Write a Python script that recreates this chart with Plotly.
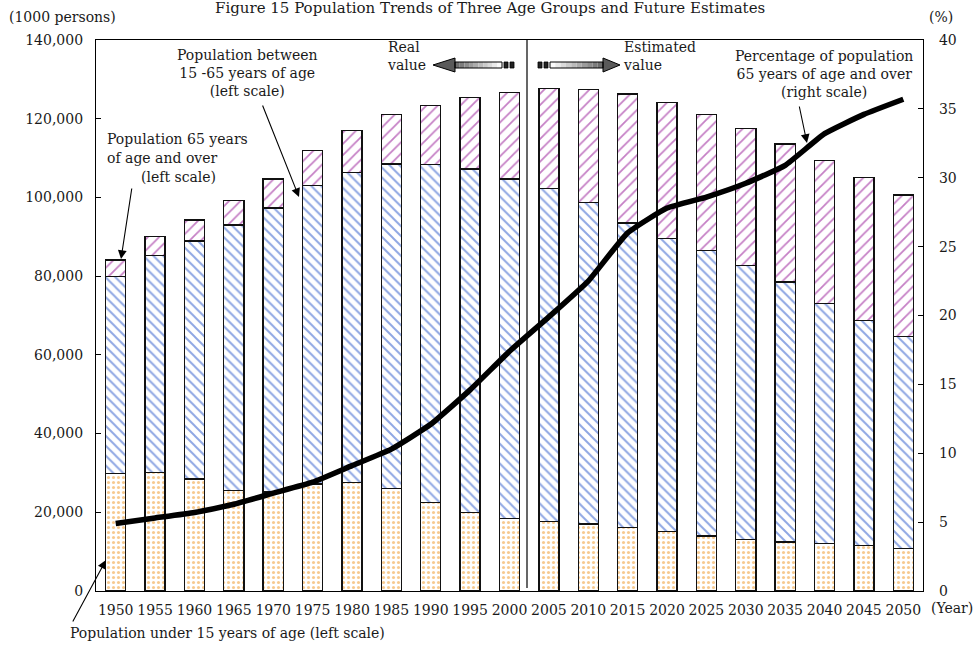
import plotly.graph_objects as go

years = [1950, 1955, 1960, 1965, 1970, 1975, 1980, 1985, 1990, 1995, 2000,
         2005, 2010, 2015, 2020, 2025, 2030, 2035, 2040, 2045, 2050]
under15 = [29786, 30123, 28434, 25529, 25153, 27221, 27507, 26033, 22486, 20014, 18472,
           17727, 17074, 16197, 15095, 14000, 13162, 12500, 12081, 11500, 10842]
age15_64 = [50168, 55167, 60469, 67444, 72119, 75807, 78835, 82506, 85904, 87165, 86220,
            84590, 81665, 77296, 74453, 72500, 69576, 66000, 61000, 57200, 53889]
over65 = [4155, 4786, 5398, 6236, 7393, 8865, 10647, 12468, 14895, 18261, 22005,
          25392, 28735, 32772, 34559, 34640, 34840, 35100, 36260, 36300, 35863]
pct65 = [4.9, 5.3, 5.7, 6.3, 7.1, 7.9, 9.1, 10.3, 12.1, 14.6, 17.4,
         19.9, 22.5, 26.0, 27.8, 28.6, 29.6, 30.9, 33.2, 34.6, 35.7]
left_ticks = [0, 20000, 40000, 60000, 80000, 100000, 120000, 140000]
right_ticks = [0, 5, 10, 15, 20, 25, 30, 35, 40]

FONT = "DejaVu Serif"
TXT = "#1a1a1a"
W, H = 975, 646
L, R, T, B = 96, 923, 40, 591


def P(x, y):
    return (x - L) / (R - L), (B - y) / (B - T)


fig = go.Figure()
bar_line = dict(color="#111111", width=1.4)
fig.add_trace(go.Bar(x=years, y=under15, width=2.55, name="under 15",
                     marker=dict(color="white", line=bar_line,
                                 pattern=dict(shape=".", fgcolor="#EE9420", bgcolor="white",
                                              size=5, solidity=0.3))))
fig.add_trace(go.Bar(x=years, y=age15_64, width=2.55, name="15-64",
                     marker=dict(color="white", line=bar_line,
                                 pattern=dict(shape="\\", fgcolor="#1F4FC8", bgcolor="white",
                                              size=7, solidity=0.28))))
fig.add_trace(go.Bar(x=years, y=over65, width=2.55, name="65+",
                     marker=dict(color="white", line=bar_line,
                                 pattern=dict(shape="/", fgcolor="#8B008B", bgcolor="white",
                                              size=8, solidity=0.22))))
fig.add_trace(go.Scatter(x=years, y=pct65, yaxis="y2", mode="lines",
                         line=dict(color="black", width=5.5, shape="spline", smoothing=0.4),
                         name="pct"))

shapes = []
# divider between real and estimated
x0, y0 = P(527, 40)
x1, y1 = P(527, 588)
shapes.append(dict(type="line", xref="paper", yref="paper", x0=x0, y0=y0, x1=x1, y1=y1,
                   line=dict(color="black", width=1.2)))


def rect(xa, ya, xb, yb, fill, line_color="black", lw=0.8):
    a = P(xa, ya)
    b = P(xb, yb)
    return dict(type="rect", xref="paper", yref="paper", x0=a[0], y0=a[1], x1=b[0], y1=b[1],
                fillcolor=fill, line=dict(color=line_color, width=lw))


def path(pts, fill, lw=1.0):
    s = ""
    for i, (x, y) in enumerate(pts):
        px, py = P(x, y)
        s += ("M" if i == 0 else " L") + f" {px:.5f},{py:.5f}"
    s += " Z"
    return dict(type="path", xref="paper", yref="paper", path=s, fillcolor=fill,
                line=dict(color="black", width=lw))


def grad(c0, c1, t):
    return "#%02x%02x%02x" % tuple(int(c0[i] + (c1[i] - c0[i]) * t) for i in range(3))


# left arrow (Real value)
ymid = 65
shaft_top, shaft_bot = ymid - 3, ymid + 3
head_tip, head_back = 433, 455
shaft_end = 502
n = 10
for i in range(n):
    xa = head_back + (shaft_end - head_back) * i / n
    xb = head_back + (shaft_end - head_back) * (i + 1) / n
    shapes.append(rect(xa, shaft_top, xb, shaft_bot,
                       grad((110, 110, 110), (250, 250, 250), i / (n - 1)), line_color="rgba(0,0,0,0)", lw=0))
shapes.append(path([(head_tip, ymid), (head_back, 58), (head_back, 72)], "#5a5a5a", 1.0))
shapes.append(dict(type="rect", xref="paper", yref="paper",
                   x0=P(head_back, 0)[0], x1=P(shaft_end, 0)[0],
                   y0=P(0, shaft_top)[1], y1=P(0, shaft_bot)[1],
                   fillcolor="rgba(0,0,0,0)", line=dict(color="black", width=1)))
shapes.append(rect(504, shaft_top, 508, shaft_bot, "#222222"))
shapes.append(rect(510, shaft_top, 514, shaft_bot, "#222222"))

# right arrow (Estimated value)
head_tip2, head_back2 = 620, 603
shaft_start2 = 550
for i in range(n):
    xa = shaft_start2 + (head_back2 - shaft_start2) * i / n
    xb = shaft_start2 + (head_back2 - shaft_start2) * (i + 1) / n
    shapes.append(rect(xa, shaft_top, xb, shaft_bot,
                       grad((250, 250, 250), (110, 110, 110), i / (n - 1)), line_color="rgba(0,0,0,0)", lw=0))
shapes.append(path([(head_tip2, ymid), (head_back2, 58), (head_back2, 72)], "#5a5a5a", 1.0))
shapes.append(dict(type="rect", xref="paper", yref="paper",
                   x0=P(shaft_start2, 0)[0], x1=P(head_back2, 0)[0],
                   y0=P(0, shaft_top)[1], y1=P(0, shaft_bot)[1],
                   fillcolor="rgba(0,0,0,0)", line=dict(color="black", width=1)))
shapes.append(rect(538, shaft_top, 542, shaft_bot, "#222222"))
shapes.append(rect(544, shaft_top, 548, shaft_bot, "#222222"))

annotations = []


def text(x, y, s, xanchor="left", size=14, align="left"):
    px, py = P(x, y)
    annotations.append(dict(xref="paper", yref="paper", x=px, y=py, text=s, showarrow=False,
                            xanchor=xanchor, yanchor="middle", align=align,
                            font=dict(family=FONT, size=size, color=TXT)))


def arrow(hx, hy, tx, ty):
    px, py = P(hx, hy)
    annotations.append(dict(xref="paper", yref="paper", x=px, y=py, ax=tx - hx, ay=ty - hy,
                            axref="pixel", ayref="pixel", text="", showarrow=True,
                            arrowhead=2, arrowsize=1.6, arrowwidth=1.1, arrowcolor="black",
                            standoff=0, startstandoff=0))


text(490, 8, "Figure 15 Population Trends of Three Age Groups and Future Estimates",
     xanchor="center", size=15)
text(7, 17, "(1000 persons)")
text(927, 17, "(%)")
text(929, 608, "(Year)")

text(385, 56, "Real<br>value", align="left")
text(621, 56, "Estimated<br>value", align="left")
text(247, 73, "Population between<br>15 -65 years of age<br>(left scale)", xanchor="center", align="center")
text(105, 139, "Population 65 years")
text(105, 158, "of age and over")
text(218, 177, "(left scale)", xanchor="right")
text(824, 74, "Percentage of population<br>65 years of age and over<br>(right scale)",
     xanchor="center", align="center")
text(68, 633, "Population under 15 years of age (left scale)")

arrow(299, 197, 262, 104)
arrow(121, 259, 132, 187)
arrow(807, 143, 799, 105)
arrow(106, 560, 72, 623)

fig.update_layout(
    width=W, height=H,
    margin=dict(l=L, r=W - R, t=T, b=H - B, pad=0),
    paper_bgcolor="white", plot_bgcolor="white",
    barmode="stack", showlegend=False,
    font=dict(family=FONT, size=14, color=TXT),
    xaxis=dict(range=[1947.5, 2052.5], tickmode="array", tickvals=years,
               ticktext=[str(y) for y in years], ticks="", showgrid=False, zeroline=False,
               showline=True, linecolor="black", linewidth=1.2, mirror=True,
               ticklabelstandoff=6, tickfont=dict(family=FONT, size=14, color=TXT)),
    yaxis=dict(range=[0, 140000], tickmode="array", tickvals=left_ticks,
               ticktext=[f"{v:,}" for v in left_ticks], ticks="inside", ticklen=5,
               tickcolor="black", showgrid=False, zeroline=False, showline=True,
               linecolor="black", linewidth=1.2, ticklabelstandoff=9,
               tickfont=dict(family=FONT, size=14, color=TXT)),
    yaxis2=dict(range=[0, 40], overlaying="y", side="right", tickmode="array",
                tickvals=right_ticks, ticks="inside", ticklen=5, tickcolor="black",
                showgrid=False, zeroline=False, showline=True, linecolor="black",
                linewidth=1.2, ticklabelstandoff=12,
                tickfont=dict(family=FONT, size=14, color=TXT)),
    shapes=shapes,
    annotations=annotations,
)

fig.write_html("out.html")
